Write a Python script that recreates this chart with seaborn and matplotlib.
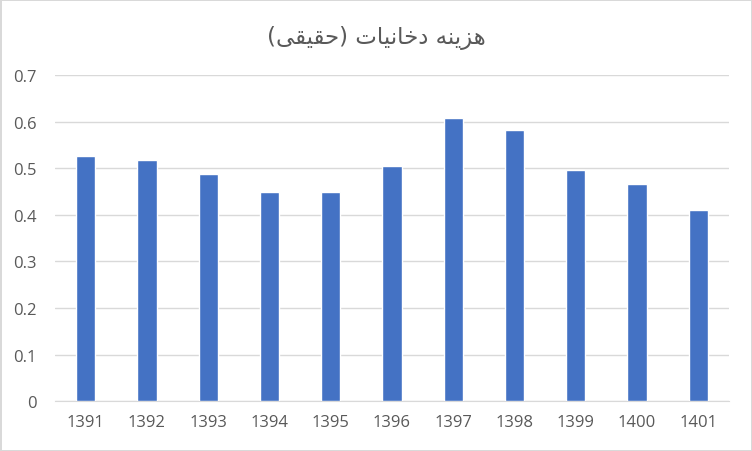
import matplotlib
matplotlib.use("Agg")
import matplotlib.pyplot as plt
import seaborn as sns
import pandas as pd

years = ["1391", "1392", "1393", "1394", "1395", "1396",
         "1397", "1398", "1399", "1400", "1401"]
values = [0.526, 0.518, 0.488, 0.450, 0.448, 0.505,
          0.608, 0.582, 0.496, 0.466, 0.410]
title = "هزینه دخانیات (حقیقی)"

# matplotlib has no arabic shaping, so map letters to presentation forms
# (isolated, final, initial, medial); None = letter does not join forward
FORMS = {
    "ه": ("\uFEE9", "\uFEEA", "\uFEEB", "\uFEEC"),
    "ز": ("\uFEAF", "\uFEB0", None, None),
    "ی": ("\uFBFC", "\uFBFD", "\uFBFE", "\uFBFF"),
    "ن": ("\uFEE5", "\uFEE6", "\uFEE7", "\uFEE8"),
    "د": ("\uFEA9", "\uFEAA", None, None),
    "خ": ("\uFEA5", "\uFEA6", "\uFEA7", "\uFEA8"),
    "ا": ("\uFE8D", "\uFE8E", None, None),
    "ت": ("\uFE95", "\uFE96", "\uFE97", "\uFE98"),
    "ح": ("\uFEA1", "\uFEA2", "\uFEA3", "\uFEA4"),
    "ق": ("\uFED5", "\uFED6", "\uFED7", "\uFED8"),
}


def shape_rtl(text):
    out = []
    for i, ch in enumerate(text):
        if ch not in FORMS:
            out.append(ch)
            continue
        prev = text[i - 1] if i > 0 else ""
        nxt = text[i + 1] if i + 1 < len(text) else ""
        join_prev = prev in FORMS and FORMS[prev][2] is not None
        join_next = nxt in FORMS and FORMS[ch][2] is not None
        iso, fin, ini, med = FORMS[ch]
        if join_prev and join_next:
            out.append(med)
        elif join_prev:
            out.append(fin)
        elif join_next:
            out.append(ini)
        else:
            out.append(iso)
    mirror = {"(": ")", ")": "("}
    return "".join(mirror.get(c, c) for c in reversed(out))


df = pd.DataFrame({"year": years, "value": values})

sns.set_style("white")
plt.rcParams["font.family"] = ["Open Sans", "DejaVu Sans"]

fig = plt.figure(figsize=(7.52, 4.52), dpi=100)
fig.patch.set_edgecolor("#D9D9D9")
fig.patch.set_linewidth(2)
ax = fig.add_axes([55 / 752, 1 - 402.3 / 452, 674 / 752, (402.3 - 76) / 452])

sns.barplot(data=df, x="year", y="value", color="#4472C4", width=0.315,
            saturation=1, ax=ax, zorder=3)

ax.set_ylim(0, 0.7)
ax.set_yticks([0, 0.1, 0.2, 0.3, 0.4, 0.5, 0.6, 0.7])
ax.set_yticklabels(["0", "0.1", "0.2", "0.3", "0.4", "0.5", "0.6", "0.7"])
ax.yaxis.grid(True, color="#D9D9D9", linewidth=1, zorder=0)
ax.set_axisbelow(True)
for side in ["top", "right", "left"]:
    ax.spines[side].set_visible(False)
ax.spines["bottom"].set_color("#D9D9D9")
ax.tick_params(axis="both", length=0, labelsize=12, labelcolor="#595959")
ax.tick_params(axis="x", pad=9)
ax.tick_params(axis="y", pad=13)
ax.set_xlabel("")
ax.set_ylabel("")

fig.text(0.5, 1 - 38 / 452, shape_rtl(title), ha="center", va="center",
         fontsize=16.5, color="#595959", family=["DejaVu Sans"])

fig.savefig("out.png", dpi=100, edgecolor=fig.get_edgecolor())
